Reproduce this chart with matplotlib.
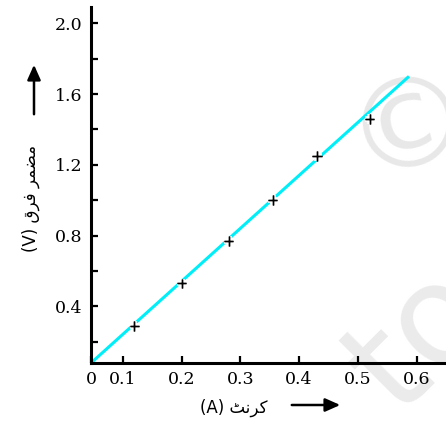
import matplotlib
matplotlib.use("Agg")
import matplotlib.pyplot as plt
import matplotlib.patheffects as pe
from matplotlib.ticker import FixedLocator

# readings taken from the graph
current = [0.12, 0.20, 0.28, 0.355, 0.43, 0.52]
voltage = [0.29, 0.53, 0.77, 1.00, 1.25, 1.46]

# best fit line, starting at the (broken) origin
fit_x = [0.046, 0.587]
fit_y = [0.08, 1.70]

x_ticks = [0.046, 0.1, 0.2, 0.3, 0.4, 0.5, 0.6]
x_tick_labels = ["0", "0.1", "0.2", "0.3", "0.4", "0.5", "0.6"]
y_ticks = [0.4, 0.8, 1.2, 1.6, 2.0]
y_tick_labels = ["0.4", "0.8", "1.2", "1.6", "2.0"]
y_minor = [0.2, 0.6, 1.0, 1.4, 1.8]

# Urdu labels in presentation forms, visual (left to right) order
x_label = "(A) " + "\uFB67\uFEE7\uFEAE\uFB90"
y_label = "(V) " + "\uFED5\uFEAE\uFED3 \uFEAE\uFEE4\uFEC0\uFEE3"

fig = plt.figure(figsize=(4.46, 4.23), dpi=100)
ax = fig.add_axes([91 / 446, 60 / 423, 355 / 446, 356 / 423])
ax.patch.set_alpha(0)

ax.plot(fit_x, fit_y, color="#00eef8", linewidth=2.2, solid_capstyle="butt", zorder=2)
ax.plot(current, voltage, linestyle="none", marker="+", markersize=7, markeredgewidth=1.0,
        color="black", zorder=3,
        path_effects=[pe.withStroke(linewidth=4, foreground="white"), pe.Normal()])

ax.set_xlim(0.046, 0.65)
ax.set_ylim(0.08, 2.092)

for side in ["top", "right"]:
    ax.spines[side].set_visible(False)
for side in ["left", "bottom"]:
    ax.spines[side].set_linewidth(2.2)

ax.set_xticks(x_ticks)
ax.set_xticklabels(x_tick_labels)
ax.set_yticks(y_ticks)
ax.set_yticklabels(y_tick_labels)
ax.yaxis.set_minor_locator(FixedLocator(y_minor))
ax.tick_params(axis="both", which="both", direction="in", length=5, width=1.6)
ax.tick_params(axis="x", pad=6)
ax.tick_params(axis="y", pad=6)
for lbl in ax.get_xticklabels() + ax.get_yticklabels():
    lbl.set_family("DejaVu Serif")
    lbl.set_fontsize(12.5)

# light watermark, behind the axes
fig.text(410 / 446, 1 - 127 / 423, "\u00a9", fontsize=90, color="#e8e8e8", rotation=15,
         ha="center", va="center", zorder=-5)
fig.text(420 / 446, 1 - 340 / 423, "to", fontsize=100, color="#ebebeb", rotation=45,
         ha="center", va="center", zorder=-5)

# axis titles with arrows
fig.text(234 / 446, 1 - 408 / 423, x_label, family="DejaVu Sans", fontsize=12,
         ha="center", va="center")
fig.text(31 / 446, 1 - 198 / 423, y_label, family="DejaVu Sans", fontsize=12,
         rotation=90, ha="center", va="center")
ax.annotate("", xy=(343, 423 - 405), xytext=(289, 423 - 405),
            xycoords="figure pixels", textcoords="figure pixels",
            arrowprops=dict(arrowstyle="-|>,head_length=0.9,head_width=0.4", color="black", lw=1.8))
ax.annotate("", xy=(34, 423 - 62), xytext=(34, 423 - 117),
            xycoords="figure pixels", textcoords="figure pixels",
            arrowprops=dict(arrowstyle="-|>,head_length=0.9,head_width=0.4", color="black", lw=1.8))

fig.savefig("out.png", dpi=100)
